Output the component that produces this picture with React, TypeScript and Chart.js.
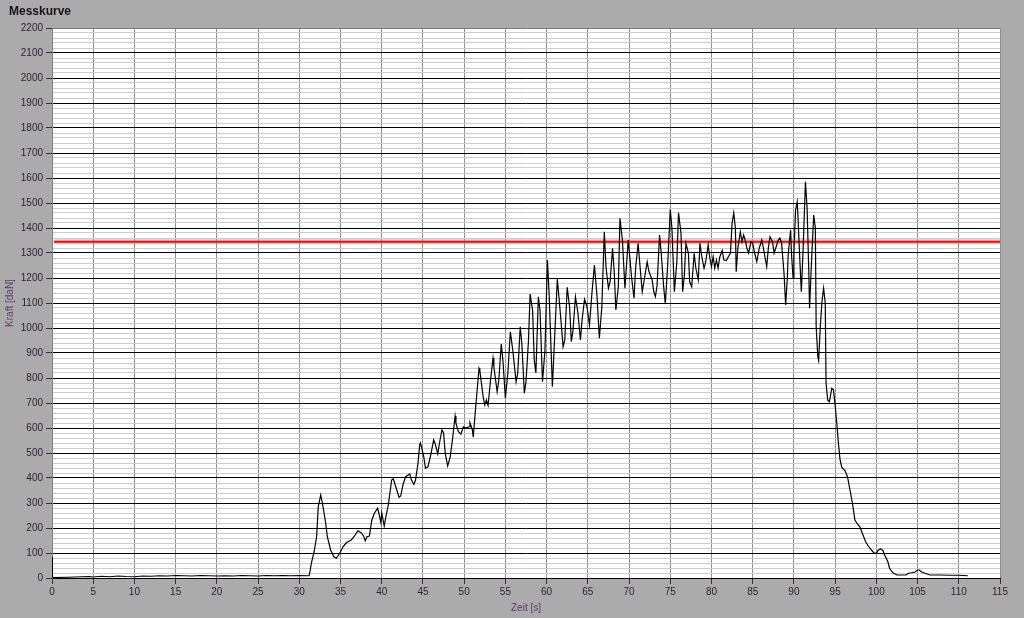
import React, { useEffect, useRef } from "react";
import { Chart, registerables } from "chart.js";

Chart.register(...registerables);

const CHART_TITLE = "Messkurve";
const Y_TITLE = "Kraft [daN]";
const X_TITLE = "Zeit [s]";

const X_MIN = 0;
const X_MAX = 115;
const X_STEP = 5;
const Y_MIN = 0;
const Y_MAX = 2200;
const Y_MINOR_STEP = 20;
const Y_MAJOR_STEP = 100;

const thresholdDaN = 1345;
const thresholdTimes = [0.25, 115];

const timeS = [
  0, 0.05, 2, 4.5, 5, 6, 7, 8, 9, 10, 11, 12, 13, 14, 15, 16, 17, 18, 19, 20,
  21, 22, 23, 24, 25, 26, 27, 28, 29, 30, 31.2, 31.5, 31.8, 32.1, 32.3, 32.6,
  32.8, 33.2, 33.4, 33.8, 34.2, 34.5, 34.9, 35.3, 35.7, 36.3, 36.7, 37.1, 37.5,
  37.8, 38.0, 38.2, 38.5, 38.8, 39.1, 39.5, 39.7, 39.9, 40.0, 40.3, 40.5, 40.8,
  41.2, 41.4, 41.7, 42.1, 42.3, 42.6, 42.9, 43.4, 43.6, 43.9, 44.1, 44.4, 44.6,
  44.7, 45.1, 45.3, 45.6, 45.9, 46.3, 46.5, 46.8, 47.0, 47.3, 47.5, 47.7, 48.0,
  48.3, 48.6, 48.9, 49.0, 49.3, 49.6, 49.9, 50.2, 50.6, 50.7, 51.0, 51.1, 51.4,
  51.8, 51.9, 52.3, 52.5, 52.7, 52.9, 53.2, 53.5, 53.6, 54.0, 54.2, 54.5, 54.7,
  55.0, 55.3, 55.6, 55.9, 56.3, 56.5, 56.8, 57.0, 57.3, 57.5, 57.8, 58.0, 58.3,
  58.5, 58.7, 59.0, 59.2, 59.5, 59.8, 60.1, 60.3, 60.7, 61.0, 61.3, 61.6, 62.0,
  62.2, 62.5, 62.8, 63.0, 63.2, 63.5, 63.8, 64.1, 64.3, 64.6, 64.9, 65.2, 65.5,
  65.8, 66.1, 66.4, 66.7, 67.0, 67.2, 67.5, 67.7, 68.0, 68.2, 68.4, 68.7, 68.9,
  69.2, 69.5, 69.9, 70.1, 70.3, 70.6, 70.8, 71.1, 71.4, 71.6, 71.9, 72.2, 72.4,
  72.8, 73.0, 73.2, 73.4, 73.7, 73.9, 74.2, 74.4, 74.7, 75.0, 75.2, 75.5, 75.8,
  76.0, 76.3, 76.5, 76.7, 76.9, 77.2, 77.35, 77.6, 77.9, 78.1, 78.4, 78.6, 78.8,
  79.1, 79.3, 79.6, 79.8, 80.0, 80.2, 80.4, 80.6, 80.8, 81.0, 81.3, 81.5, 81.8,
  82.1, 82.3, 82.5, 82.7, 82.9, 83.0, 83.2, 83.5, 83.7, 83.9, 84.1, 84.3, 84.5,
  84.8, 85.0, 85.2, 85.5, 85.8, 86.1, 86.3, 86.4, 86.7, 86.9, 87.1, 87.4, 87.6,
  87.8, 88.1, 88.3, 88.5, 88.8, 89.0, 89.2, 89.3, 89.6, 89.7, 89.9, 90.0, 90.2,
  90.4, 90.5, 90.7, 90.9, 91.1, 91.4, 91.6, 91.8, 91.9, 92.1, 92.4, 92.6, 92.7,
  92.9, 93.0, 93.2, 93.4, 93.6, 93.8, 93.9, 94.1, 94.3, 94.6, 94.8, 95.0, 95.2,
  95.4, 95.6, 95.8, 96.2, 96.5, 96.8, 97.1, 97.4, 97.7, 98.0, 98.3, 98.7, 99.0,
  99.4, 99.7, 100.0, 100.2, 100.5, 100.8, 101.0, 101.4, 101.6, 102.0, 102.5,
  103.1, 103.6, 103.9, 104.3, 104.7, 105.0, 105.2, 105.5, 105.9, 106.5, 107.7,
  108.9, 109.9, 111.1,
];

const forceDaN = [
  85, 2, 3, 6, 4, 7, 5, 8, 6, 5, 8, 7, 9, 8, 10, 9, 8, 10, 9, 8,
  9, 8, 10, 9, 8, 10, 9, 10, 9, 10, 9, 65, 105, 165, 285, 332,
  300, 220, 165, 112, 85, 79, 99, 125, 141, 152, 168, 189, 181,
  168, 149, 165, 168, 232, 259, 279, 252, 221, 260, 208, 245, 292,
  392, 397, 365, 323, 328, 376, 405, 416, 392, 375, 392, 459, 532,
  540, 485, 439, 445, 485, 552, 535, 496, 539, 592, 580, 499, 448,
  483, 559, 648, 619, 585, 575, 605, 600, 605, 621, 592, 563, 685,
  839, 830, 725, 692, 712, 690, 792, 879, 845, 745, 790, 936, 870,
  719, 820, 985, 910, 785, 820, 1005, 935, 739, 785, 950, 1136, 1070,
  872, 820, 1125, 1070, 785, 910, 1272, 1139, 765, 980, 1196, 1085, 925,
  950, 1163, 1080, 945, 990, 1125, 1060, 952, 1032, 1115, 1085, 1012, 1140,
  1252, 1133, 959, 1085, 1385, 1245, 1159, 1185, 1319, 1225, 1072, 1165, 1439,
  1350, 1159, 1352, 1280, 1205, 1119, 1240, 1339, 1220, 1145, 1205, 1265, 1228,
  1192, 1145, 1125, 1170, 1372, 1300, 1165, 1096, 1260, 1475, 1400, 1145, 1265,
  1461, 1380, 1145, 1205, 1339, 1300, 1185, 1165, 1299, 1240, 1192, 1339, 1290,
  1239, 1265, 1332, 1280, 1245, 1285, 1240, 1272, 1240, 1283, 1310, 1272, 1270,
  1288, 1300, 1419, 1461, 1400, 1225, 1320, 1385, 1345, 1372, 1350, 1319, 1300,
  1345, 1340, 1305, 1265, 1320, 1352, 1320, 1300, 1245, 1320, 1365, 1345, 1299,
  1320, 1352, 1360, 1340, 1219, 1092, 1200, 1292, 1392, 1300, 1199, 1300, 1472,
  1505, 1440, 1285, 1145, 1300, 1585, 1480, 1232, 1079, 1240, 1452, 1400, 1005,
  885, 870, 1005, 1105, 1159, 1100, 779, 712, 705, 759, 752, 692, 619,
  539, 472, 443, 429, 405, 352, 299, 232, 216, 205, 179, 145, 129,
  112, 101, 99, 110, 117, 110, 92, 65, 39, 21, 12,
  12, 12, 19, 21, 24, 32, 32, 24, 19, 12, 12,
  11, 11, 9,
];

const FONT = "'Liberation Sans', Arial, sans-serif";
const BG = "#ababab";
const LABEL_COLOR = "#2d1b3a";
const AXIS_TITLE_COLOR = "#5a3a6a";

export default function App() {
  const ref = useRef<HTMLCanvasElement>(null);

  useEffect(() => {
    document.body.style.margin = "0";
    const canvas = ref.current;
    if (!canvas) return;

    const curve = timeS.map((t, i) => ({ x: t, y: forceDaN[i] }));
    const limit = thresholdTimes.map((t) => ({ x: t, y: thresholdDaN }));

    const backgroundPlugin = {
      id: "bgPlugin",
      beforeDraw(chart: any) {
        const { ctx, chartArea } = chart;
        ctx.save();
        ctx.fillStyle = BG;
        ctx.fillRect(0, 0, chart.width, chart.height);
        ctx.fillStyle = "#ffffff";
        ctx.fillRect(
          chartArea.left,
          chartArea.top,
          chartArea.right - chartArea.left,
          chartArea.bottom - chartArea.top
        );
        ctx.restore();
      },
      afterDraw(chart: any) {
        const { ctx } = chart;
        ctx.save();
        ctx.font = `bold 12px ${FONT}`;
        ctx.fillStyle = "#1e0f1e";
        ctx.textBaseline = "alphabetic";
        ctx.textAlign = "left";
        ctx.fillText(CHART_TITLE, 9, 15);
        ctx.restore();
      },
    };

    const chart = new Chart(canvas, {
      type: "line",
      data: {
        datasets: [
          {
            data: curve,
            borderColor: "#000000",
            borderWidth: 1.2,
            pointRadius: 0,
            tension: 0,
            fill: false,
            order: 0,
          },
          {
            data: limit,
            borderColor: "#d21e1e",
            borderWidth: 2,
            pointRadius: 0,
            fill: false,
            order: 1,
          },
          {
            data: limit,
            borderColor: "rgba(225,110,110,0.45)",
            borderWidth: 5,
            pointRadius: 0,
            fill: false,
            order: 2,
          },
        ],
      },
      options: {
        responsive: false,
        animation: false,
        devicePixelRatio: 1,
        layout: { padding: { left: 0, right: 24, top: 28, bottom: 0 } },
        plugins: {
          legend: { display: false },
          tooltip: { enabled: false },
          title: { display: false },
        },
        scales: {
          x: {
            type: "linear",
            min: X_MIN,
            max: X_MAX,
            afterFit: (scale: any) => {
              scale.height = 40;
            },
            ticks: {
              stepSize: X_STEP,
              autoSkip: false,
              maxRotation: 0,
              color: LABEL_COLOR,
              font: { family: FONT, size: 10 },
              padding: 2,
            },
            grid: {
              color: "#8e8e8e",
              lineWidth: 1,
              drawTicks: true,
              tickLength: 6,
              tickColor: "#333333",
            },
            border: { display: true, color: "#000000" },
            title: {
              display: true,
              text: X_TITLE,
              color: AXIS_TITLE_COLOR,
              font: { family: FONT, size: 10 },
              padding: { top: 0, bottom: 4 },
            },
          },
          y: {
            type: "linear",
            min: Y_MIN,
            max: Y_MAX,
            afterFit: (scale: any) => {
              scale.width = 52;
            },
            ticks: {
              stepSize: Y_MINOR_STEP,
              autoSkip: false,
              color: LABEL_COLOR,
              font: { family: FONT, size: 10 },
              padding: 3,
              callback: (v: any) =>
                Math.round(Number(v)) % Y_MAJOR_STEP === 0 ? String(v) : "",
            },
            grid: {
              lineWidth: 1,
              color: (ctx: any) => {
                const v = ctx.tick ? Math.round(ctx.tick.value) : 0;
                if (v === Y_MAX) return "#7a7a7a";
                return v % Y_MAJOR_STEP === 0 ? "#000000" : "#cdcdcd";
              },
              drawTicks: true,
              tickLength: 6,
              tickColor: (ctx: any) => {
                const v = ctx.tick ? Math.round(ctx.tick.value) : 0;
                return v % Y_MAJOR_STEP === 0 ? "#333333" : "rgba(0,0,0,0)";
              },
            },
            border: { display: true, color: "#808080" },
            title: {
              display: true,
              text: Y_TITLE,
              color: AXIS_TITLE_COLOR,
              font: { family: FONT, size: 10 },
              padding: { top: 4, bottom: 0 },
            },
          },
        },
      },
      plugins: [backgroundPlugin],
    } as any);

    return () => chart.destroy();
  }, []);

  return (
    <div style={{ width: 1024, height: 618, background: BG }}>
      <canvas ref={ref} width={1024} height={618} style={{ display: "block" }} />
    </div>
  );
}
